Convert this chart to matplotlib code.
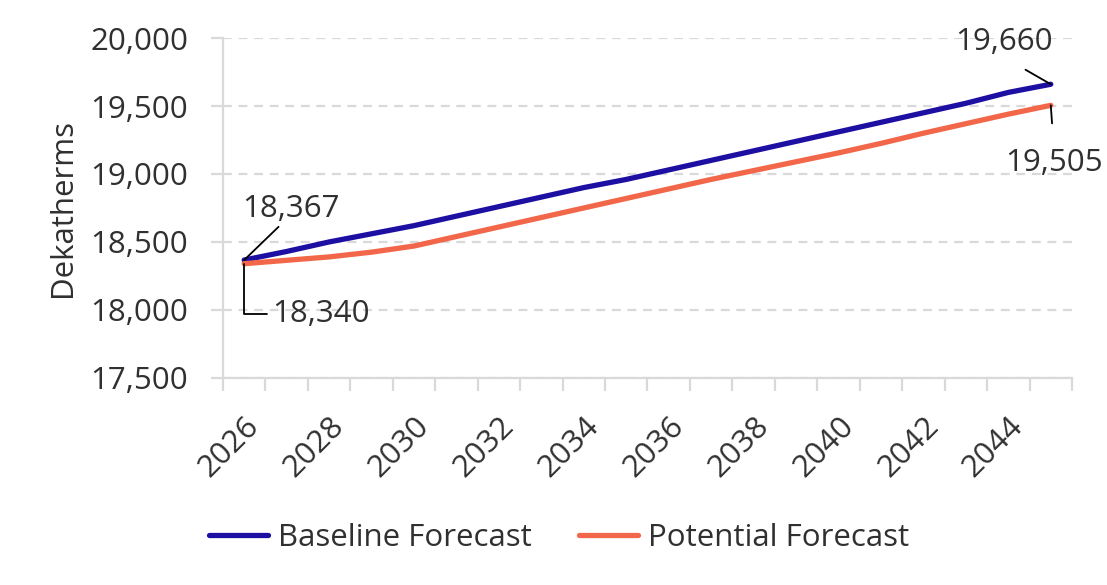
import numpy as np
import matplotlib
matplotlib.use('Agg')
import matplotlib.pyplot as plt

# Data
years = list(range(2026, 2046))
baseline = [18367, 18430, 18500, 18560, 18620, 18690, 18760, 18830, 18900, 18960,
            19030, 19100, 19170, 19240, 19310, 19380, 19450, 19520, 19600, 19660]
potential = [18340, 18365, 18390, 18425, 18470, 18540, 18610, 18680, 18750, 18820,
             18890, 18960, 19025, 19090, 19155, 19225, 19300, 19370, 19440, 19505]
y_ticks = [17500, 18000, 18500, 19000, 19500, 20000]

plt.rcParams['font.family'] = ['Open Sans', 'DejaVu Sans']
TEXT = '#303030'
GRID = '#D9D9D9'
BLUE = '#1E0FA3'
ORANGE = '#F2674A'
FS = 22.5

fig = plt.figure(figsize=(11.07, 5.85), dpi=100, facecolor='white')
ax = fig.add_axes([0.2014, 0.354, 0.7670, 0.581])

x = np.arange(len(years))
ax.plot(x, baseline, color=BLUE, lw=3.8, solid_capstyle='round', label='Baseline Forecast', zorder=3)
ax.plot(x, potential, color=ORANGE, lw=3.8, solid_capstyle='round', label='Potential Forecast', zorder=3)

ax.set_xlim(-0.5, len(years) - 0.5)
ax.set_ylim(y_ticks[0], y_ticks[-1])
ax.set_yticks(y_ticks)
ax.set_yticklabels([f'{v:,}' for v in y_ticks], fontsize=FS, color=TEXT)
ax.yaxis.grid(True, color=GRID, lw=1.6, ls=(0, (4, 3)))
ax.set_axisbelow(True)

ax.set_xticks(x[::2])
ax.set_xticklabels([str(y) for y in years[::2]], rotation=45, ha='right', va='top',
                   rotation_mode='anchor', fontsize=FS, color=TEXT)
ax.set_xticks(np.arange(-0.5, len(years)), minor=True)
ax.tick_params(axis='x', which='major', length=0, pad=24)
ax.tick_params(axis='x', which='minor', length=9, width=1.6, color=GRID)
ax.tick_params(axis='y', length=9, width=1.6, color=GRID, pad=16)

for s in ['top', 'right']:
    ax.spines[s].set_visible(False)
for s in ['left', 'bottom']:
    ax.spines[s].set_color(GRID)
    ax.spines[s].set_linewidth(1.6)

ax.set_ylabel('Dekatherms', fontsize=FS, color=TEXT, labelpad=9)

# Data labels with leader lines
n = len(years) - 1
ax.annotate(f'{baseline[0]:,}', xy=(0, baseline[0]), xytext=(47, 36), textcoords='offset pixels',
            fontsize=FS, color=TEXT, ha='center', va='bottom',
            arrowprops=dict(arrowstyle='-', color='black', lw=1.3, shrinkA=0, shrinkB=0,
                            relpos=(0.4, 0)))
ax.annotate(f'{potential[0]:,}', xy=(0, potential[0]), xytext=(28, -50), textcoords='offset pixels',
            fontsize=FS, color=TEXT, ha='left', va='center',
            arrowprops=dict(arrowstyle='-', color='black', lw=1.3, shrinkA=2, shrinkB=0,
                            connectionstyle='angle,angleA=0,angleB=90,rad=0', relpos=(0, 0.5)))
ax.annotate(f'{baseline[n]:,}', xy=(n, baseline[n]), xytext=(-47, 42), textcoords='offset pixels',
            fontsize=FS, color=TEXT, ha='center', va='center',
            arrowprops=dict(arrowstyle='-', color='black', lw=1.3, shrinkA=14, shrinkB=0,
                            relpos=(0.5, 0)))
ax.annotate(f'{potential[n]:,}', xy=(n, potential[n]), xytext=(3, -58), textcoords='offset pixels',
            fontsize=FS, color=TEXT, ha='center', va='center',
            arrowprops=dict(arrowstyle='-', color='black', lw=1.3, shrinkA=16, shrinkB=0,
                            relpos=(0.5, 1)))

leg = fig.legend(loc='center', bbox_to_anchor=(0.505, 0.08), ncol=2, frameon=False,
                 fontsize=FS, handlelength=1.9, handletextpad=0.32, columnspacing=1.5)
for t in leg.get_texts():
    t.set_color(TEXT)

fig.savefig('out.png', dpi=100, facecolor='white')
